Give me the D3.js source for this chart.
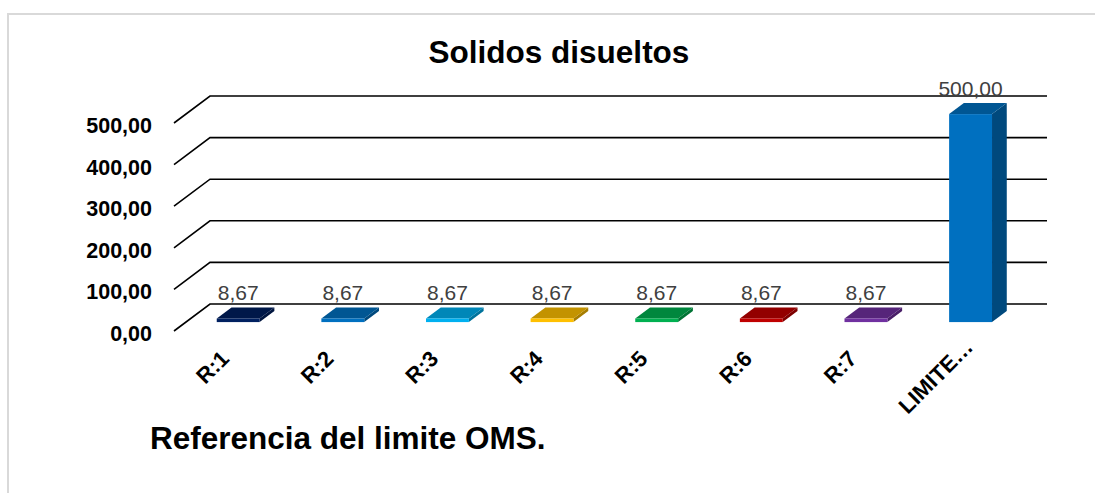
<!DOCTYPE html>
<html>
<head>
<meta charset="utf-8">
<script src="https://cdn.jsdelivr.net/npm/d3@7/dist/d3.min.js"></script>
<style>
  html, body { margin: 0; padding: 0; background: #fff; }
  svg { display: block; font-family: "Liberation Sans", Arial, sans-serif; }
</style>
</head>
<body>
<svg id="chart" width="1095" height="493"></svg>
<script>
// Data
const categories = ["R:1", "R:2", "R:3", "R:4", "R:5", "R:6", "R:7", "LIMITE…"];
const values = [8.67, 8.67, 8.67, 8.67, 8.67, 8.67, 8.67, 500.00];
const barColors = ["#002060", "#0070c0", "#00b0f0", "#ffc000", "#00b050", "#c00000", "#7030a0", "#0070c0"];
const yTicks = [0, 100, 200, 300, 400, 500];
const titleText = "Solidos disueltos";
const noteText = "Referencia del limite OMS.";

const fmt = v => d3.format(".2f")(v).replace(".", ",");

const svg = d3.select("#chart");

// Chart-area frame
svg.append("path")
  .attr("d", "M8,493 V14 H1095")
  .attr("fill", "none")
  .attr("stroke", "#d9d9d9")
  .attr("stroke-width", 2);

// Oblique 3D geometry: front floor plane and depth vector
const floorY = 331;
const depth = { x: 36, y: -27 };
const barDepthFront = 0.33, barDepthBack = 0.74;

const x = d3.scaleBand()
  .domain(categories)
  .range([174, 1011])
  .paddingInner(0.59)
  .paddingOuter(0.295);

const h = d3.scaleLinear().domain([0, 500]).range([0, 208]);

// Gridlines: back wall + side-wall diagonals
const grid = svg.append("g").attr("stroke", "#000").attr("stroke-width", 1.6).attr("fill", "none");
yTicks.forEach(t => {
  const yf = floorY - h(t);
  const xf = x.range()[0];
  grid.append("path")
    .attr("d", `M${xf},${yf} L${xf + depth.x},${yf + depth.y} H${x.range()[1] + depth.x}`);
});

// Y tick labels
svg.append("g").selectAll("text")
  .data(yTicks)
  .join("text")
  .attr("x", 152)
  .attr("y", d => floorY - h(d) + 10)
  .attr("text-anchor", "end")
  .attr("font-size", 21.5)
  .attr("font-weight", "bold")
  .attr("fill", "#000")
  .text(fmt);

// Bars
const bars = svg.append("g");
categories.forEach((c, i) => {
  const v = values[i];
  const base = d3.color(barColors[i]);
  const w = x.bandwidth();
  const fx = x(c) + barDepthFront * depth.x;
  const fyb = floorY + barDepthFront * depth.y;
  const hh = h(v);
  const fyt = fyb - hh;
  const dx = (barDepthBack - barDepthFront) * depth.x;
  const dy = (barDepthBack - barDepthFront) * depth.y;
  const g = bars.append("g");
  // side face
  g.append("path")
    .attr("d", `M${fx + w},${fyt} L${fx + w + dx},${fyt + dy} L${fx + w + dx},${fyb + dy} L${fx + w},${fyb} Z`)
    .attr("fill", base.darker(1.2));
  // top face
  g.append("path")
    .attr("d", `M${fx},${fyt} L${fx + w},${fyt} L${fx + w + dx},${fyt + dy} L${fx + dx},${fyt + dy} Z`)
    .attr("fill", base.darker(0.75));
  // front face
  g.append("rect")
    .attr("x", fx).attr("y", fyt)
    .attr("width", w).attr("height", hh)
    .attr("fill", base);
  // value label
  g.append("text")
    .attr("x", fx + w / 2)
    .attr("y", fyt - 18)
    .attr("text-anchor", "middle")
    .attr("font-size", 21)
    .attr("fill", "#404040")
    .text(fmt(v));
});

// Category labels, rotated -45deg; each is pinned at ~72% of its length
svg.append("g").selectAll("text")
  .data(categories)
  .join("text")
  .attr("transform", d => `translate(${x(d) + x.bandwidth() / 2 - 3},367) rotate(-45)`)
  .attr("text-anchor", "start")
  .attr("font-size", 22)
  .attr("font-weight", "bold")
  .attr("fill", "#000")
  .text(d => d)
  .attr("x", function () { return -0.72 * this.getComputedTextLength(); });

// Title
svg.append("text")
  .attr("x", 559).attr("y", 63)
  .attr("text-anchor", "middle")
  .attr("font-size", 31.5)
  .attr("font-weight", "bold")
  .text(titleText);

// Note below the chart
svg.append("text")
  .attr("x", 150).attr("y", 449)
  .attr("font-size", 31.5)
  .attr("font-weight", "bold")
  .text(noteText);
</script>
</body>
</html>
